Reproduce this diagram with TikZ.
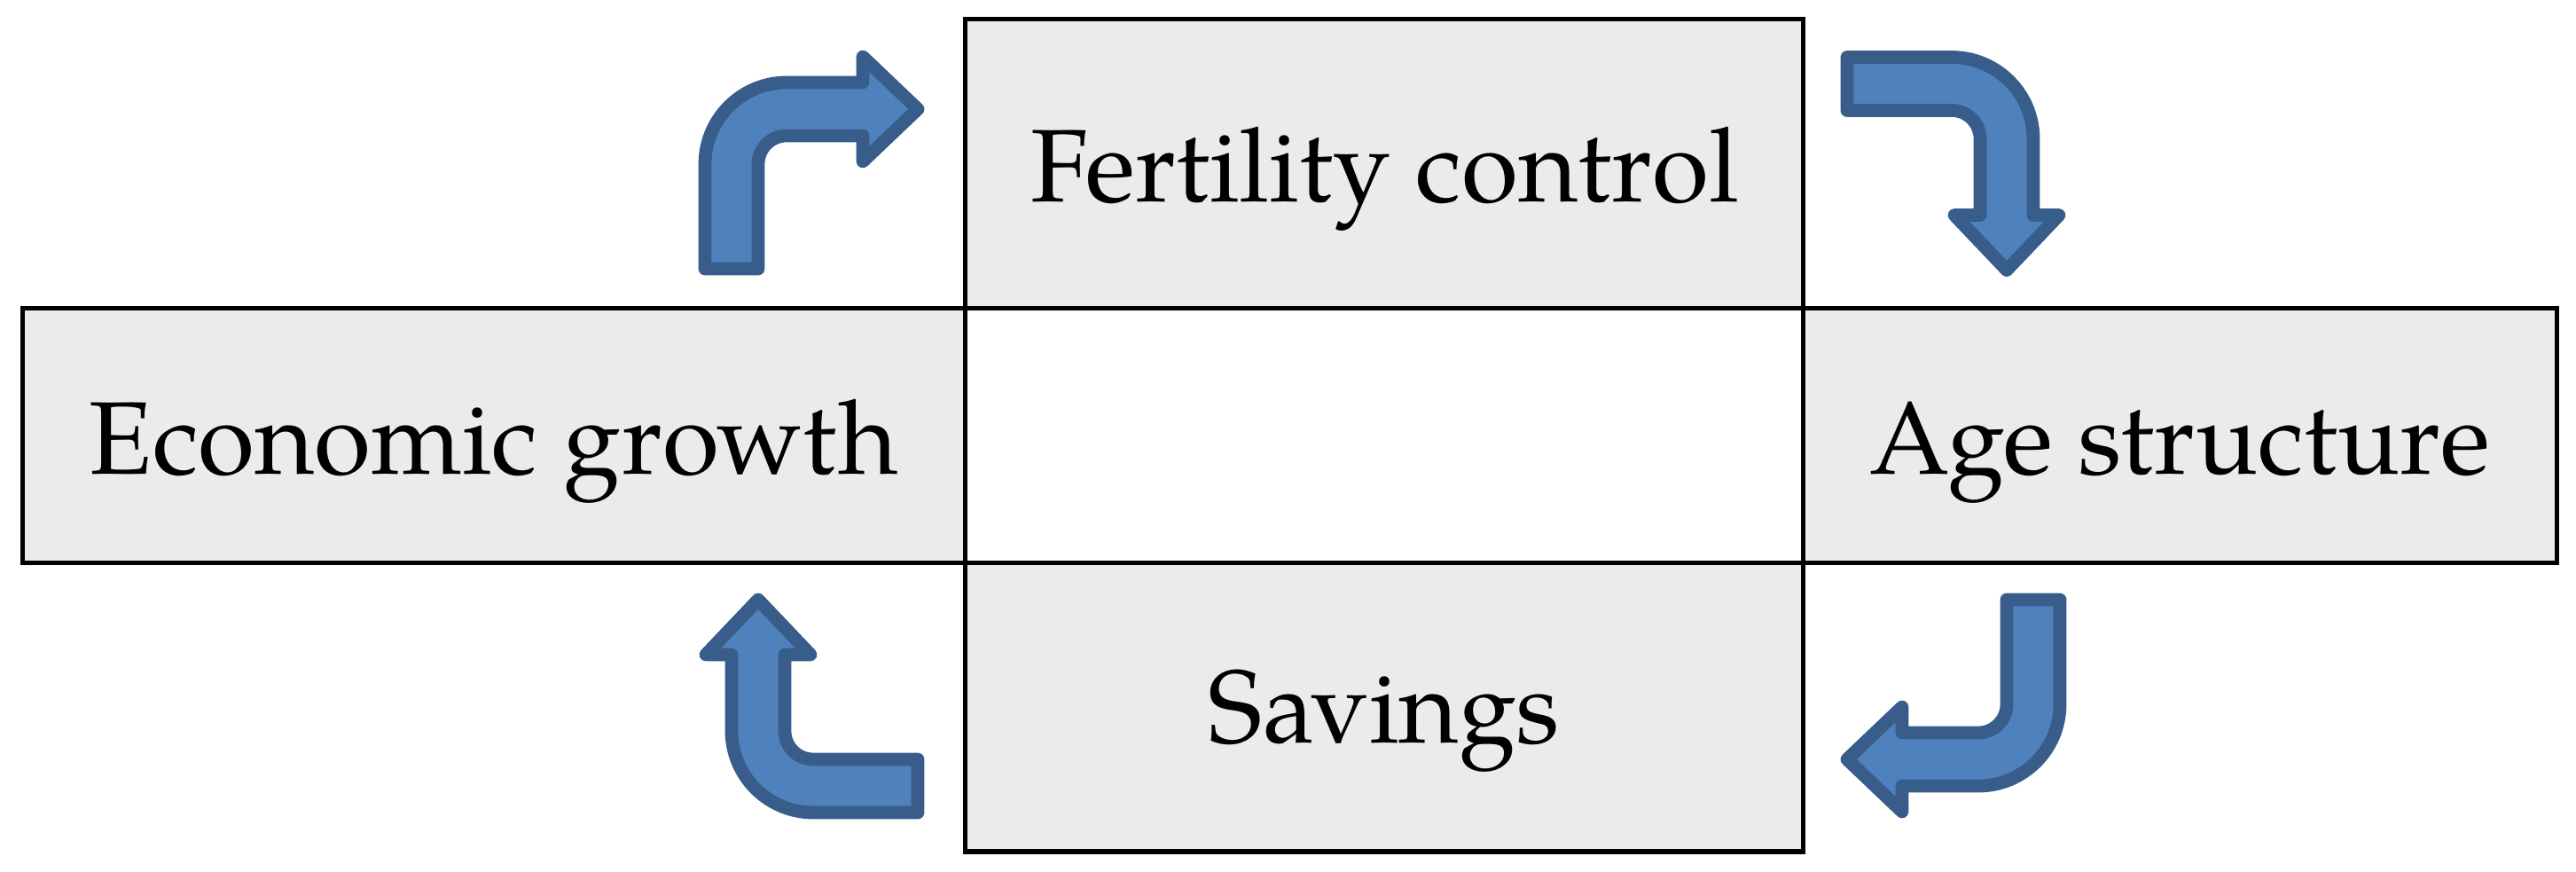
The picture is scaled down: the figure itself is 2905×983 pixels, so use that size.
\documentclass[tikz,border=0pt]{standalone}
\usepackage{fontspec}
\setmainfont{TeX Gyre Pagella}
\definecolor{boxgray}{RGB}{235,235,235}
\definecolor{arrowfill}{RGB}{79,129,189}
\definecolor{arrowline}{RGB}{56,93,138}
\tikzset{
  boxshape/.style={draw=black, fill=boxgray, line width=1.45pt},
  midshape/.style={draw=black, fill=white, line width=1.45pt},
  label/.style={font=\fontsize{33.1}{40}\selectfont, anchor=base, inner sep=0pt},
  bentarrowstyle/.style={draw=arrowline, fill=arrowfill, line width=4.2pt, line join=round}
}
\newcommand\bentarrowat[3]{%
  \begin{scope}[shift={(#1,#2)}, rotate=#3]
    \filldraw[bentarrowstyle] (-30,180) -- (-30,62)
      arc[start angle=180, end angle=270, radius=92] -- (148,-30) -- (148,-59)
      -- (210,0) -- (148,59) -- (148,30) -- (62,30)
      arc[start angle=270, end angle=180, radius=32] -- (30,180) -- cycle;
  \end{scope}}
\begin{document}
\begin{tikzpicture}[x=0.01cm, y=-0.01cm]
  \useasboundingbox (0,0) rectangle (2905,983);
  % boxes
  \draw[midshape] (1088.5,347.5) rectangle (2033.5,634.5);
  \draw[boxshape] (1088.5,21.5) rectangle (2033.5,347.5);
  \draw[boxshape] (25.5,347.5) rectangle (1088.5,634.5);
  \draw[boxshape] (2033.5,347.5) rectangle (2883.5,634.5);
  \draw[boxshape] (1088.5,634.5) rectangle (2033.5,960);
  % labels
  \node[label] (fert) at (1562,228) {Fertility control};
  \node[label] (econ) at (557,535) {Economic growth};
  \node[label] (age) at (2458.5,535) {Age structure};
  \node[label] (sav) at (1561,838) {Savings};
  % arrows
  \bentarrowat{825}{123}{0}
  \bentarrowat{2263}{94.5}{-90}
  \bentarrowat{2293}{856}{180}
  \bentarrowat{855}{886}{90}
\end{tikzpicture}
\end{document}
